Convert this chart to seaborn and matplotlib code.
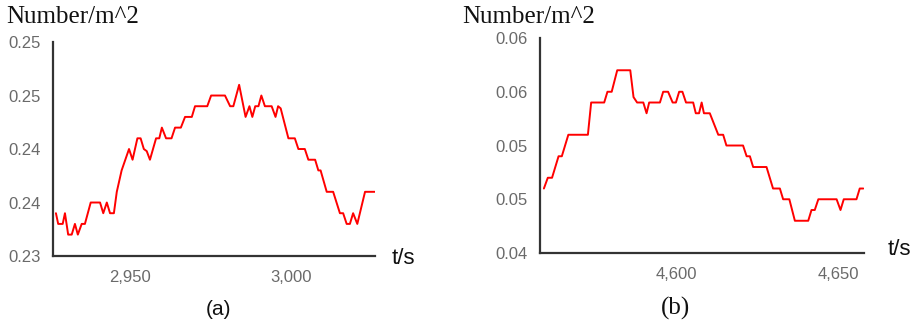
import numpy as np
import pandas as pd
import seaborn as sns
import matplotlib
matplotlib.use("Agg")
import matplotlib.pyplot as plt

# panel (a)
t_a = [2927.0, 2927.7, 2929.1, 2929.8, 2930.8, 2931.9, 2932.9, 2933.8, 2935.0, 2936.0,
       2937.8, 2940.7, 2941.7, 2942.8, 2943.8, 2945.0, 2945.9, 2947.4, 2949.7, 2950.8,
       2952.3, 2953.3, 2954.3, 2955.2, 2956.2, 2958.1, 2959.1, 2959.9, 2961.2, 2962.9,
       2964.0, 2965.8, 2967.1, 2969.2, 2970.2, 2974.0, 2975.2, 2979.5, 2981.1, 2982.1,
       2983.9, 2984.7, 2985.9, 2987.1, 2988.0, 2988.9, 2989.9, 2990.8, 2991.9, 2994.0,
       2995.2, 2996.0, 2996.8, 2999.2, 3001.2, 3002.3, 3004.3, 3005.4, 3007.5, 3008.5,
       3009.2, 3011.1, 3013.1, 3015.2, 3016.2, 3017.3, 3018.3, 3019.3, 3020.6, 3023.0,
       3026.1]
v_a = [0.234, 0.233, 0.233, 0.234, 0.232, 0.232, 0.233, 0.232, 0.233, 0.233,
       0.235, 0.235, 0.234, 0.235, 0.234, 0.234, 0.236, 0.238, 0.240, 0.239,
       0.241, 0.241, 0.240, 0.2398, 0.239, 0.241, 0.241, 0.242, 0.241, 0.241,
       0.242, 0.242, 0.243, 0.243, 0.244, 0.244, 0.245, 0.245, 0.244, 0.244,
       0.246, 0.2448, 0.243, 0.244, 0.243, 0.244, 0.244, 0.245, 0.244, 0.244,
       0.243, 0.244, 0.2438, 0.241, 0.241, 0.240, 0.240, 0.239, 0.239, 0.238,
       0.238, 0.236, 0.236, 0.234, 0.234, 0.233, 0.233, 0.234, 0.233, 0.236,
       0.236]
yticks_a = [0.230, 0.235, 0.240, 0.245, 0.250]
ylabels_a = ["0.23", "0.24", "0.24", "0.25", "0.25"]
xticks_a = [2950, 3000]
xlabels_a = ["2,950", "3,000"]

# panel (b)
t_b = [4559.5, 4560.7, 4562.0, 4563.0, 4564.0, 4565.0, 4567.0, 4573.0, 4574.0, 4578.0,
       4579.0, 4580.3, 4582.0, 4586.0, 4587.0, 4588.1, 4590.0, 4591.0, 4591.8, 4595.1,
       4596.1, 4597.6, 4599.0, 4600.0, 4601.0, 4602.0, 4603.1, 4605.3, 4606.1, 4607.1,
       4607.9, 4608.6, 4610.4, 4613.0, 4614.5, 4615.5, 4620.6, 4621.7, 4622.7, 4623.7,
       4627.8, 4629.8, 4631.9, 4632.9, 4634.8, 4636.5, 4640.6, 4641.6, 4642.6, 4643.7,
       4649.3, 4650.5, 4651.5, 4655.4, 4656.4, 4657.5]
v_b = [0.046, 0.047, 0.047, 0.048, 0.049, 0.049, 0.051, 0.051, 0.054, 0.054,
       0.055, 0.055, 0.057, 0.057, 0.0545, 0.054, 0.054, 0.053, 0.054, 0.054,
       0.055, 0.055, 0.054, 0.054, 0.055, 0.055, 0.054, 0.054, 0.053, 0.053,
       0.054, 0.053, 0.053, 0.051, 0.051, 0.050, 0.050, 0.049, 0.049, 0.048,
       0.048, 0.046, 0.046, 0.045, 0.045, 0.043, 0.043, 0.044, 0.044, 0.045,
       0.045, 0.044, 0.045, 0.045, 0.046, 0.046]
yticks_b = [0.040, 0.045, 0.050, 0.055, 0.060]
ylabels_b = ["0.04", "0.05", "0.05", "0.06", "0.06"]
xticks_b = [4600, 4650]
xlabels_b = ["4,600", "4,650"]

sns.set_style("white")
plt.rcParams["font.family"] = ["Liberation Sans", "DejaVu Sans"]

fig = plt.figure(figsize=(9.16, 3.26), dpi=100)
ax_a = fig.add_axes([0.0579, 0.2147, 0.3515, 0.6564])
ax_b = fig.add_axes([0.5895, 0.2239, 0.3537, 0.6595])

panels = [
    (ax_a, t_a, v_a, (2926.1, 3026.1), (0.230, 0.250), xticks_a, xlabels_a, yticks_a, ylabels_a),
    (ax_b, t_b, v_b, (4558.3, 4657.7), (0.040, 0.060), xticks_b, xlabels_b, yticks_b, ylabels_b),
]
for ax, t, v, xl, yl, xt, xlab, yt, ylab in panels :
    df = pd.DataFrame({"t" : t, "v" : v})
    sns.lineplot(data=df, x="t", y="v", ax=ax, color="#ff0000", lw=1.4)
    ax.set_xlim(*xl)
    ax.set_ylim(*yl)
    ax.set_xticks(xt)
    ax.set_xticklabels(xlab)
    ax.set_yticks(yt)
    ax.set_yticklabels(ylab)
    ax.set_xlabel("")
    ax.set_ylabel("")
    for side in ("top", "right") :
        ax.spines[side].set_visible(False)
    for side in ("left", "bottom") :
        ax.spines[side].set_color("#333333")
        ax.spines[side].set_linewidth(1.6)
    ax.tick_params(axis="both", length=0, labelsize=12, labelcolor="#6a6a6a")
    ax.tick_params(axis="y", pad=9)
    ax.tick_params(axis="x", pad=10)

# headings and axis names
fig.text(0.007, 0.93, "Number/m^2", family="Liberation Serif", fontsize=18, color="#111111")
fig.text(0.505, 0.93, "Number/m^2", family="Liberation Serif", fontsize=18, color="#111111")
fig.text(0.428, 0.19, "t/s", fontsize=16, color="#111111")
fig.text(0.969, 0.218, "t/s", fontsize=16, color="#111111")
fig.text(0.239, 0.035, "(a)", fontsize=15, ha="center", color="#111111")
fig.text(0.737, 0.035, "(b)", family="Liberation Serif", fontsize=18, ha="center", color="#111111")

fig.savefig("out.png", dpi=100, facecolor="white")
